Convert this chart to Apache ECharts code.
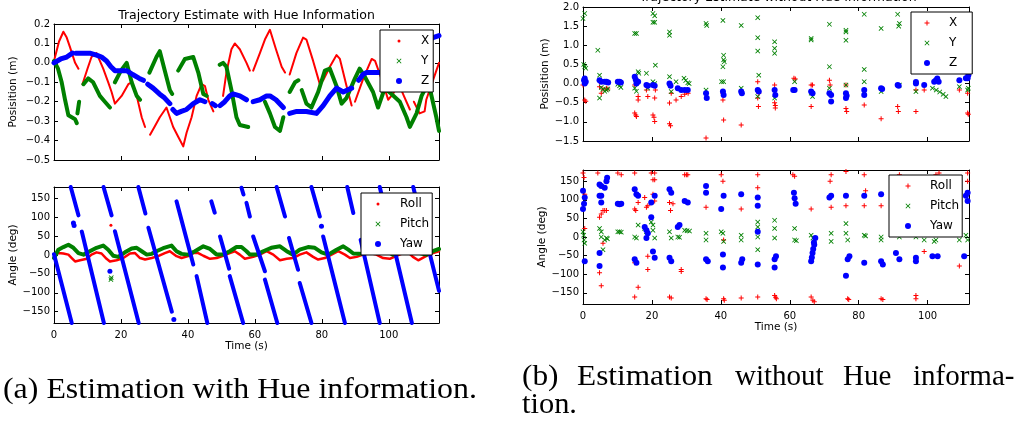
<!DOCTYPE html>
<html>
<head>
<meta charset="utf-8">
<script src="https://cdn.jsdelivr.net/npm/echarts@6/dist/echarts.min.js"></script>
<style>
html, body { margin: 0; padding: 0; background: #fff; }
#chart { width: 1021px; height: 426px; }
</style>
</head>
<body>
<div id="chart"></div>
<script>
// ---- data: [time (s), value]; null = break in the trace ----
// (a) with hue, position (m)
var posA_X = [[0,0.01],[1.5,0.11],[2.8,0.16],[3.8,0.13],[4.8,0.08],[6.3,0.0],[7.3,-0.03],null,
  [8.5,-0.11],[10,-0.03],[11.2,0.03],[12.7,0.05],[14.7,-0.03],[16.2,-0.1],[17.2,-0.15],[18.2,-0.21],[20.2,-0.17],[22.2,-0.11],[23.2,-0.1],[24.7,-0.17],[26.2,-0.28],[27.2,-0.33],null,
  [28.7,-0.37],[30,-0.33],[31.6,-0.28],[33.6,-0.23],[35.6,-0.33],[37.1,-0.38],[38.6,-0.43],[39.6,-0.36],[41.1,-0.28],[42.6,-0.17],[44.1,-0.11],[45.1,-0.12],[46.1,-0.19],[47.6,-0.25],null,
  [50.5,-0.17],[51.5,-0.05],[53,0.07],[54,0.1],[55.5,0.07],[57.5,0.0],[58.5,-0.04],null,
  [59.5,-0.04],[61.5,0.05],[63,0.12],[64.5,0.17],[66.3,0.07],[68,-0.02],[69,-0.05],null,
  [70.4,-0.06],[72.4,0.05],[74.4,0.13],[75.4,0.12],[77.4,0.01],[78.9,-0.08],[79.4,-0.11],null,
  [80.4,-0.09],[82.4,-0.02],[84.4,0.04],[85.4,0.02],[87.4,-0.12],[88.9,-0.22],null,
  [89.9,-0.2],[92.4,-0.08],[94.9,0.02],[95.9,0.01],[98.4,-0.11],[99.8,-0.19],[101.3,-0.16],[102.8,-0.1],[104.5,-0.17],[106.3,-0.24],null,
  [107.5,-0.2],[109.2,-0.26],[110.7,-0.25],[111.2,-0.19],[113.2,-0.09],[115,0.0]];
var posA_Y = [[0,0.01],[1.2,-0.03],[2.3,-0.1],[3.3,-0.19],[4.3,-0.27],[5.3,-0.28],[6.3,-0.29],[6.8,-0.31],null,
  [7.0,-0.26],[7.5,-0.2],null,
  [8.8,-0.11],[10.2,-0.08],[11.7,-0.1],[13.7,-0.17],[15.2,-0.2],[16.7,-0.23],null,
  [18.2,-0.1],[20,-0.04],[21.7,0.0],[23.2,-0.1],[24.7,-0.17],[25.7,-0.19],null,
  [28.5,-0.05],[30.6,0.03],[31.6,0.06],[33.1,-0.04],[34.6,-0.14],[35.3,-0.16],null,
  [37.1,-0.04],[39.1,0.02],[41.6,0.03],[43.1,-0.05],[44.6,-0.16],[45.6,-0.17],null,
  [49.5,-0.01],[50.5,0.0],[51.5,-0.02],[53,-0.14],[54.5,-0.28],[55.5,-0.32],[58,-0.33],null,
  [63,-0.2],[64.5,-0.26],[66,-0.33],[67.5,-0.35],[68.5,-0.28],null,
  [70.4,-0.15],[72,-0.1],[73,-0.09],null,
  [74,-0.14],[75.4,-0.21],[76.9,-0.23],[78.9,-0.15],[80.9,-0.04],[82.4,-0.03],[84.4,-0.12],[85.9,-0.21],[87.4,-0.18],[89.9,-0.08],[91.3,-0.03],[92.8,-0.07],[95.3,-0.15],[96.8,-0.23],[98.8,-0.13],[100.8,-0.16],[103.3,-0.2],[105.3,-0.28],[106.3,-0.33],[108.3,-0.26],[109.8,-0.17],[111.3,-0.12],[112.5,-0.15],[114.2,-0.28],[115,-0.35]];
var posA_Z = [[0,0.0],[2,0.02],[3.8,0.03],[5.5,0.05],null,
  [6.5,0.05],[8.8,0.05],[10.7,0.05],[12.7,0.04],[14.2,0.03],[15.7,0.01],[17,-0.02],[18.2,-0.04],[20,-0.04],[21.7,-0.04],[23.5,-0.06],[25.5,-0.08],[26.7,-0.09],null,
  [28,-0.11],[29.6,-0.13],[31.5,-0.16],[33,-0.18],[34.6,-0.21],null,
  [35.5,-0.24],[36.6,-0.26],[38,-0.25],[39.6,-0.24],[41.6,-0.21],[43.6,-0.19],[45.1,-0.2],null,
  [47.3,-0.21],[48.2,-0.22],null,
  [49.6,-0.22],[51,-0.2],[52.5,-0.17],[53.5,-0.16],[55.5,-0.17],[57.5,-0.19],null,
  [59.5,-0.2],[61.5,-0.19],[63.5,-0.17],[64.5,-0.17],[66.3,-0.19],[68.5,-0.23],null,
  [70.4,-0.26],[72.5,-0.25],[75.4,-0.25],[78.4,-0.26],[80.4,-0.22],[82.4,-0.17],[84.4,-0.13],[86.4,-0.15],[88.9,-0.13],null,
  [91,-0.09],[92.3,-0.06],[93.3,-0.05],[95,-0.05],[97.3,-0.05],[100,-0.03],[103,0.0],[106,0.04],[109,0.08],[111,0.1],[113.2,0.13],[115,0.14]];

// (a) with hue, angle (deg)
var angA_Roll = [[0,1],[1.3,5],[2.8,4],[4.3,1],[5.3,-8],[6.3,-17],[7.8,-14],[9.8,-10],[11.2,1],[12.7,7],[14.2,4],[15.7,-10],[16.7,-17],[18.7,-14],[20.7,-8],[22.7,4],[24.2,5],[25.7,-8],[27.2,-12],[29.2,-8],[31.1,-3],[33.1,5],[34.6,10],[36.6,-3],[38.1,-8],[40.1,-3],[41.6,5],[43.1,5],[44.6,-2],[46.6,-10],[48.6,-8],[50.5,-2],[52.5,5],[54,10],[55.5,1],[57,-10],[59.5,-5],[61.5,1],[63.5,10],[65.5,1],[67.5,-14],[69.5,-10],[71.4,-8],[73.4,1],[75.4,7],[77.4,-5],[78.9,-12],[80.9,-8],[82.9,1],[84.9,10],[86.9,1],[88.4,-8],[90.4,-5],[92.3,1],[94.3,5],[96.3,1],[98.3,-8],[100.3,-10],[102.3,-2],[104.3,5],[105.8,7],[107.2,-5],[108.8,-14],[110.7,-5],[112.7,4],[115,10]];
var angA_Pitch = [[0,-8],[1.3,14],[2.8,21],[4.3,27],[5.8,19],[7.3,5],[8.8,1],[10.7,10],[12.7,19],[14.7,25],[16.2,14],[17.7,-2],[19.2,-5],[21.2,7],[23.2,17],[24.7,19],[26.2,10],[27.7,1],[29.2,3],[30.6,10],[32.6,18],[35.1,25],[36.6,10],[38.1,3],[40.1,1],[42.1,10],[44.6,23],[46.6,16],[48.6,1],[50.5,1],[52.5,10],[54.5,21],[56,21],[57.5,10],[58.5,1],[60.5,1],[62.5,10],[64.9,19],[67.5,23],[69.5,10],[71.4,1],[73.4,14],[75.9,21],[77.9,19],[79.9,7],[81.9,1],[84.4,14],[86.4,23],[87.9,14],[89.4,4],[91.3,3],[93.2,5],[95.2,14],[97.3,19],[99.3,10],[101.3,1],[103.3,7],[105.3,16],[107.2,19],[109.2,5],[111.2,1],[113.2,10],[115,16]];
var angA_Yaw = [[0,2],[5.3,-180],null,
  [5.0,180],[7.3,105],null,[8.3,62],[14.9,-180],null,
  [14.8,180],[17.2,105],null,[18.2,63],[25.3,-180],null,
  [25.2,180],[27.3,110],null,[28.2,72],[35.2,-150],null,
  [36.6,142],[41.6,-25],null,[42.6,-56],[45.8,-180],null,
  [47,142],[48,112],null,[49.6,49],[52.3,-36],null,[52.5,-56],[56.5,-180],null,
  [56,178],[56.6,160],null,[57.5,138],[58.5,102],null,[59.5,49],[63,-43],null,[63,-65],[66.7,-180],null,
  [66.5,180],[69,102],null,[70.2,45],[72.9,-39],null,[73.4,-74],[76.9,-180],null,
  [76.9,180],[79.4,102],null,[80.4,49],[86.9,-180],null,
  [87.6,180],[89.4,111],null,[91.6,40],[97.3,-180],null,
  [97.3,180],[106.9,-180],null,
  [107.3,180],[115,-95]];
var angA_RollOut = [[17,79]];
var angA_PitchOut = [[17,-65],[17.1,-60]];
var angA_YawOut = [[5.8,85],[6.0,78],[16.7,-43],[35.8,-171],[79.9,76]];

// (b) without hue, position (m)
var posB_X = [[0,-0.04],[0.5,-0.43],[0.8,-0.46],[4.8,-0.08],[5.3,-0.25],[5.8,-0.15],[6.8,-0.12],[7.2,-0.14],[15,-0.04],[15,-0.77],[15.3,-0.82],[15.5,-0.86],[16,-0.43],[16,-0.34],[18.4,-0.17],[18.8,-0.34],[20.3,-0.82],[20.6,-0.88],[20.8,-0.99],[20.8,-0.38],[21,-0.17],[25.1,-0.51],[25.1,-1.05],[25.4,-1.1],[25.6,-0.25],[27,-0.43],[28.5,-0.34],[29.5,-0.28],[30,-0.22],[30.5,-0.25],[35.7,-1.42],[40.6,-0.25],[40.6,-0.43],[40.8,-0.95],[45.9,-1.08],[50.7,0.05],[50.7,-0.38],[50.9,-0.6],[51,-0.25],[55.6,-0.04],[55.6,-0.5],[55.8,-0.57],[55.8,-0.64],[61.2,0.14],[61.6,0.12],[66.2,-0.04],[66.6,-0.04],[66.2,-0.6],[71.5,0.09],[71.7,-0.04],[76.3,-0.04],[76.3,-0.65],[76.5,-0.73],[81.6,-0.56],[86.5,-0.92],[91.3,-0.6],[91.5,-0.73],[96.6,-0.73],[96.6,-0.17],[99,-0.17],[109.2,-0.17],[111.6,-0.77],[111.8,-0.8],[111.6,-0.25]];
var posB_Y = [[0,1.7],[0.5,1.83],[0.2,0.5],[0.5,0.44],[0.8,0.4],[4.3,0.87],[4.8,0.22],[4.8,-0.38],[5.3,-0.1],[5.8,-0.15],[6.3,-0.2],[6.8,-0.17],[7.2,-0.14],[10.1,-0.02],[10.6,-0.06],[11,-0.1],[15,1.31],[15.5,1.31],[16,0.31],[16.2,0.27],[15,-0.12],[15.5,-0.2],[18.4,0.27],[18.8,-0.12],[20.3,1.83],[20.3,1.6],[20.8,1.6],[20.8,1.77],[21,0.48],[20.3,0.05],[20.8,0.0],[25.1,1.35],[25.1,1.26],[25.1,0.18],[25.6,-0.21],[27,0.05],[29.3,0.14],[29.8,0.08],[30.4,0.02],[30.8,0.0],[35.7,1.57],[35.9,1.52],[35.7,-0.17],[40.6,1.65],[40.8,0.74],[40.8,0.62],[41,0.57],[40.6,0.44],[40.2,0.05],[40.8,0.05],[45.9,1.52],[45.9,-0.12],[50.7,1.72],[50.7,1.2],[50.7,0.85],[51,0.22],[50.7,-0.34],[55.6,1.09],[55.6,0.92],[55.6,0.79],[55.6,-0.38],[61.4,0.05],[66.2,1.18],[66.2,1.14],[66.2,-0.25],[66.6,-0.34],[71.5,1.55],[71.5,0.44],[71.5,-0.12],[76.3,1.39],[76.3,1.35],[76.3,1.13],[76.3,-0.04],[81.6,1.81],[81.6,0.37],[81.6,0.05],[81.6,-0.21],[86.5,1.44],[86.5,-0.21],[91.3,1.81],[91.6,1.5],[91.8,1.57],[91.8,-0.04],[96.6,-0.21],[101.9,0.31],[101.4,-0.12],[102.5,-0.17],[103.5,-0.22],[104.5,-0.28],[105.3,-0.34],[109.2,-0.08],[111.6,1.44],[111.6,-0.17],[111.8,-0.12]];
var posB_Z = [[0.3,0.09],[0.5,0.13],[0.5,0.0],[0.8,0.05],[4.8,0.09],[5.3,0.05],[6.3,0.05],[6.8,0.05],[7.3,0.03],[10.1,0.05],[10.6,0.05],[11,0.03],[15,0.18],[15.3,0.1],[15.5,0.0],[16,0.05],[18.4,-0.04],[18.8,-0.06],[20.3,-0.04],[20.8,-0.06],[25.1,0.0],[25.4,-0.06],[27.5,-0.12],[28.5,-0.17],[29.5,-0.17],[30.4,-0.17],[35.7,-0.25],[35.9,-0.38],[40.6,-0.21],[40.8,-0.3],[45.9,-0.21],[46.1,-0.25],[50.7,-0.17],[51,-0.21],[55.6,-0.17],[55.8,-0.3],[61,-0.17],[61.4,-0.17],[66.2,-0.21],[66.6,-0.25],[71.5,-0.25],[72,-0.47],[72,-0.3],[76.3,-0.25],[76.3,-0.38],[76.5,-0.32],[81.6,-0.17],[81.6,-0.3],[86.5,-0.12],[86.8,-0.14],[91.3,-0.04],[91.6,-0.06],[96.6,0.0],[96.6,0.04],[99,-0.04],[101.9,0.05],[102.4,0.09],[102.8,0.13],[103.2,0.05],[109.2,0.09],[111.1,0.14],[111.8,0.4],[111.8,0.22],[111.6,0.14]];

// (b) without hue, angle (deg)
var angB_Roll = [[0,172],[0.5,23],[0.5,115],[0.3,160],[4.3,172],[4.8,53],[5.3,62],[5.8,71],[6.3,71],[6.8,71],[4.8,-96],[5.3,-131],[5.8,-17],[10.1,172],[11.1,167],[15,172],[16,93],[15,75],[15.3,71],[15,-69],[16,-135],[15,-161],[17.9,106],[18.4,80],[18.8,84],[18.8,-52],[18.8,-87],[19.8,172],[20.3,154],[20.8,172],[20.8,154],[20.8,97],[20.3,115],[25.1,93],[25.4,71],[25.1,-161],[25.6,-164],[26.1,89],[28.5,-87],[28.5,-93],[29.5,167],[30,167],[30.4,167],[35.7,80],[35.7,-166],[36,-168],[40.1,167],[40.6,150],[40.8,-8],[40.8,-166],[41,-170],[45.9,75],[45.9,-164],[50.7,167],[50.7,132],[50.7,106],[50.7,-161],[55.6,-157],[55.9,-162],[56.1,-166],[60.9,167],[61.4,163],[66.2,75],[66.2,-161],[66.7,-170],[67.1,-174],[72,167],[71.7,150],[72,80],[76.3,176],[76.3,84],[76.8,-166],[77.1,-168],[81.6,167],[82,124],[81.6,84],[86.5,84],[86.5,-166],[87,-168],[91.8,167],[96.6,-157],[96.6,-166],[99,-39],[102.4,167],[103.3,172],[109.2,-78],[111.6,172],[111.6,150]];
var angB_Pitch = [[0,14],[0.2,5],[0.3,-8],[0.5,-17],[4.8,23],[5.3,14],[5.3,0],[5.8,-34],[6.3,-8],[6.8,-3],[7.1,-5],[10.1,14],[10.6,14],[11.1,13],[15,0],[15.5,-3],[16,32],[17.9,23],[18.4,14],[19.8,40],[20.3,32],[20.3,18],[20.8,-3],[25.1,14],[25.6,-3],[27.5,0],[28,-1],[29.5,18],[30.2,17],[30.9,16],[35.7,10],[35.7,-8],[40.1,14],[40.6,10],[40.8,-12],[45.9,5],[45.9,-8],[50.7,40],[50.7,27],[50.7,0],[50.7,-34],[55.6,45],[55.6,23],[55.6,-3],[61.4,23],[61.4,-8],[61.9,-10],[66.2,5],[66.7,-3],[67.1,-6],[72,10],[72,-12],[76.3,36],[76.3,10],[76.8,-8],[81.6,5],[82,3],[86.5,0],[86.5,-8],[91.8,0],[96.6,0],[99,-8],[101.9,-12],[102.4,-8],[109.2,-8],[111.1,5],[111.6,-8]];
var angB_Yaw = [[0,124],[0.5,106],[0.3,89],[0,75],[0.5,-65],[4.8,141],[5.3,137],[6.3,132],[6.8,150],[7,159],[4.8,111],[5.3,111],[5.3,93],[4.8,-78],[4.8,-43],[10.1,89],[10.6,88],[11.1,89],[15,128],[15.5,115],[16,111],[15,-60],[15.5,-69],[17.9,27],[18.4,18],[18.8,10],[18.4,-3],[19.8,53],[19.8,93],[20.3,-39],[20.8,111],[20.8,-56],[25.1,128],[25.6,119],[25.1,-56],[25.6,-65],[27.5,27],[28,32],[29.5,97],[30.4,93],[35.7,137],[35.7,119],[35.7,-60],[36.2,-65],[40.1,75],[40.8,111],[40.6,-47],[40.6,-82],[45.9,115],[45.9,-69],[46.2,-60],[50.7,84],[50.7,106],[50.7,14],[50.7,-74],[55.6,-60],[55.6,-82],[56,-52],[61.2,119],[61.4,104],[61.7,89],[66.2,-65],[66.4,-55],[66.6,-43],[66.8,-32],[67,-15],[67.1,-21],[67.4,-3],[71.5,106],[72,111],[76.3,111],[76.3,-104],[76.8,-60],[77.3,-52],[81.6,111],[81.6,-69],[86.5,115],[86.5,-65],[87,-74],[90.8,-43],[91.8,-60],[96.6,-56],[96.6,-65],[101.4,-52],[102.9,-52],[110.6,-52],[111.1,111],[111.6,119],[111.6,97]];

// tick labels
var timeTicks = [0, 20, 40, 60, 80, 100];
var posTicksA = [-0.5, -0.4, -0.3, -0.2, -0.1, 0.0, 0.1, 0.2];
var posTicksB = [-1.5, -1.0, -0.5, 0.0, 0.5, 1.0, 1.5, 2.0];
var angTicks = [-150, -100, -50, 0, 50, 100, 150];

var RED = '#ff0000', GREEN = '#008000', BLUE = '#0000ff';
var FONT = 'DejaVu Sans';

// marker shapes
var plusSym = 'path://M2,0H3V2H5V3H3V5H2V3H0V2H2Z';
var crossSym = 'path://M0,0.6L0.6,0L2.5,1.9L4.4,0L5,0.6L3.1,2.5L5,4.4L4.4,5L2.5,3.1L0.6,5L0,4.4L1.9,2.5Z';
// legend icons (drawn in a 26x10 box)
var icDot = 'path://M0,0M26,10M11.5,5A1.5,1.5,0,1,0,14.5,5A1.5,1.5,0,1,0,11.5,5Z';
var icPlus = 'path://M0,0M26,10M12.5,2.5H13.5V4.5H15.5V5.5H13.5V7.5H12.5V5.5H10.5V4.5H12.5Z';
var icCross = 'path://M0,0M26,10M10.5,3.1L11.1,2.5L13,4.4L14.9,2.5L15.5,3.1L13.6,5L15.5,6.9L14.9,7.5L13,5.6L11.1,7.5L10.5,6.9L12.4,5Z';
var icCircle = 'path://M0,0M26,10M10,5A3,3,0,1,0,16,5A3,3,0,1,0,10,5Z';

function gaps(a) {
    return a.map(function (p) { return p === null ? ['-', '-'] : p; });
}
function minus(s) { return String(s).replace('-', '\u2212'); }

function xAx(gi, pos, maxV, labels, name) {
    return {
        type: 'value', gridIndex: gi, position: pos, min: 0, max: maxV,
        axisLine: { show: true, onZero: false, lineStyle: { color: '#000', width: 1 } },
        axisTick: { show: true, inside: true, length: 4, customValues: timeTicks, lineStyle: { color: '#000' } },
        axisLabel: { show: labels, customValues: timeTicks, color: '#000', fontSize: 10, fontFamily: FONT, margin: 7 },
        splitLine: { show: false },
        name: name || '', nameLocation: 'middle', nameGap: 18,
        nameTextStyle: { color: '#000', fontSize: 10.5, fontFamily: FONT }
    };
}
function yAx(gi, pos, lo, hi, ticks, dec, labels, name, gap) {
    return {
        type: 'value', gridIndex: gi, position: pos, min: lo, max: hi,
        axisLine: { show: true, onZero: false, lineStyle: { color: '#000', width: 1 } },
        axisTick: { show: true, inside: true, length: 4, customValues: ticks, lineStyle: { color: '#000' } },
        axisLabel: {
            show: labels, customValues: ticks, color: '#000', fontSize: 10, fontFamily: FONT, margin: 4,
            formatter: function (v) { return minus(v.toFixed(dec)); }
        },
        splitLine: { show: false },
        name: name || '', nameLocation: 'middle', nameGap: gap || 30,
        nameTextStyle: { color: '#000', fontSize: 10.5, fontFamily: FONT }
    };
}
function trace(name, gi, data, color, width) {
    return {
        name: name, type: 'line', xAxisIndex: 2 * gi, yAxisIndex: 2 * gi,
        data: gaps(data), showSymbol: false, symbol: 'none', connectNulls: false,
        color: color, lineStyle: { color: color, width: width, cap: 'round', join: 'round' },
        silent: true
    };
}
function dots(name, gi, data, color, sym, size) {
    return {
        name: name, type: 'scatter', xAxisIndex: 2 * gi, yAxisIndex: 2 * gi,
        data: data, symbol: sym, symbolSize: size, color: color,
        itemStyle: { color: color, opacity: 1 }, silent: true
    };
}
function legendBox(names, icons, colors, left, top, pad) {
    return {
        orient: 'vertical', left: left, top: top, padding: pad,
        itemWidth: 26, itemHeight: 10, itemGap: 8, selectedMode: false,
        backgroundColor: '#fff', borderColor: '#000', borderWidth: 1, borderRadius: 0,
        textStyle: { fontSize: 12, color: '#000', fontFamily: FONT, padding: [0, 0, 0, 4] },
        data: names.map(function (n, i) {
            return { name: n, icon: icons[i], itemStyle: { color: colors[i], borderWidth: 0 } };
        })
    };
}
// caption text in a serif face, stretched a little to the LaTeX widths
function cap(text, x, y, sx) {
    return {
        type: 'text', x: x, y: y, scaleX: sx, silent: true,
        style: { text: text, fill: '#000', fontSize: 29, fontFamily: 'Liberation Serif',
                 textAlign: 'left', textVerticalAlign: 'middle' }
    };
}

var chart = echarts.init(document.getElementById('chart'));

var option = {
    animation: false,
    backgroundColor: '#fff',
    grid: [
        { left: 54, top: 24, width: 385, height: 136 },
        { left: 54, top: 187, width: 385, height: 136 },
        { left: 583, top: 7, width: 386, height: 134 },
        { left: 583, top: 170, width: 386, height: 134 }
    ],
    xAxis: [
        xAx(0, 'bottom', 115, false), xAx(0, 'top', 115, false),
        xAx(1, 'bottom', 115, true, 'Time (s)'), xAx(1, 'top', 115, false),
        xAx(2, 'bottom', 112, false), xAx(2, 'top', 112, false),
        xAx(3, 'bottom', 112, true, 'Time (s)'), xAx(3, 'top', 112, false)
    ],
    yAxis: [
        yAx(0, 'left', -0.5, 0.2, posTicksA, 1, true, 'Posisition (m)', 35), yAx(0, 'right', -0.5, 0.2, posTicksA, 1, false),
        yAx(1, 'left', -180, 180, angTicks, 0, true, 'Angle (deg)', 35), yAx(1, 'right', -180, 180, angTicks, 0, false),
        yAx(2, 'left', -1.5, 2.0, posTicksB, 1, true, 'Posisition (m)', 32), yAx(2, 'right', -1.5, 2.0, posTicksB, 1, false),
        yAx(3, 'left', -180, 180, angTicks, 0, true, 'Angle (deg)', 34), yAx(3, 'right', -180, 180, angTicks, 0, false)
    ],
    legend: [
        legendBox(['X', 'Y', 'Z'], [icDot, icCross, icCircle], [RED, GREEN, BLUE], 380, 30, [5, 4, 5, 6]),
        legendBox(['Roll', 'Pitch', 'Yaw'], [icDot, icCross, icCircle], [RED, GREEN, BLUE], 361, 193, [5, 3, 5, 4]),
        legendBox(['X', 'Y', 'Z'], [icPlus, icCross, icCircle], [RED, GREEN, BLUE], 911, 12, [5, 15, 5, 3]),
        legendBox(['Roll', 'Pitch', 'Yaw'], [icPlus, icCross, icCircle], [RED, GREEN, BLUE], 889, 175, [5, 3, 5, 6])
    ],
    series: [
        trace('X', 0, posA_X, RED, 2),
        trace('Y', 0, posA_Y, GREEN, 4),
        trace('Z', 0, posA_Z, BLUE, 5),
        trace('Roll', 1, angA_Roll, RED, 2.5),
        trace('Pitch', 1, angA_Pitch, GREEN, 4),
        trace('Yaw', 1, angA_Yaw, BLUE, 4),
        dots('Roll', 1, angA_RollOut, RED, 'circle', 3),
        dots('Pitch', 1, angA_PitchOut, GREEN, crossSym, 5),
        dots('Yaw', 1, angA_YawOut, BLUE, 'circle', 5),
        dots('X', 2, posB_X, RED, plusSym, 5),
        dots('Y', 2, posB_Y, GREEN, crossSym, 5),
        dots('Z', 2, posB_Z, BLUE, 'circle', 6),
        dots('Roll', 3, angB_Roll, RED, plusSym, 5),
        dots('Pitch', 3, angB_Pitch, GREEN, crossSym, 5),
        dots('Yaw', 3, angB_Yaw, BLUE, 'circle', 6)
    ],
    graphic: [
        { type: 'text', x: 246.5, y: 16, silent: true,
          style: { text: 'Trajectory Estimate with Hue Information', fill: '#000', fontSize: 12.5, fontFamily: FONT, textAlign: 'center', textVerticalAlign: 'middle' } },
        { type: 'text', x: 778, y: -2, silent: true,
          style: { text: 'Trajectory Estimate without Hue Information', fill: '#000', fontSize: 12.5, fontFamily: FONT, textAlign: 'center', textVerticalAlign: 'middle' } },
        cap('(a) Estimation with Hue information.', 3, 390, 1.1),
        cap('(b)', 522, 377, 1.08), cap('Estimation', 577, 377, 1.08), cap('without', 735, 377, 1.0),
        cap('Hue', 843, 377, 1.0), cap('informa-', 913, 377, 1.0),
        cap('tion.', 522, 405, 1.05)
    ]
};

chart.setOption(option);
</script>
</body>
</html>
